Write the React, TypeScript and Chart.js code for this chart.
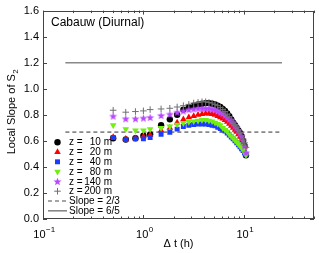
import React, { useEffect, useRef } from 'react';
import { Chart, registerables } from 'chart.js';
import { drawPoint } from 'chart.js/helpers';

Chart.register(...registerables);

// ---------------- data ----------------
const dtHours = [0.5, 0.667, 0.833, 1.0, 1.167, 1.5, 1.833, 2.167, 2.5, 2.833, 3.167, 3.5, 3.833, 4.167, 4.5, 4.833, 5.167, 5.5, 5.833, 6.167, 6.5, 6.833, 7.167, 7.5, 7.833, 8.167, 8.5, 8.833, 9.167, 9.5, 9.833, 10.167, 10.5];

const slopeZ10 = [0.62, 0.61, 0.62, 0.64, 0.65, 0.72, 0.765, 0.80, 0.84, 0.86, 0.87, 0.88, 0.885, 0.89, 0.89, 0.885, 0.88, 0.87, 0.86, 0.845, 0.83, 0.81, 0.79, 0.765, 0.74, 0.72, 0.70, 0.68, 0.66, 0.635, 0.60, 0.56, 0.49];
const slopeZ20 = [0.63, 0.615, 0.62, 0.635, 0.645, 0.68, 0.70, 0.74, 0.765, 0.78, 0.79, 0.80, 0.805, 0.81, 0.81, 0.805, 0.80, 0.79, 0.78, 0.77, 0.76, 0.745, 0.73, 0.715, 0.70, 0.685, 0.67, 0.65, 0.63, 0.61, 0.58, 0.55, 0.50];
const slopeZ40 = [0.625, 0.61, 0.615, 0.615, 0.625, 0.65, 0.665, 0.69, 0.71, 0.72, 0.725, 0.73, 0.73, 0.73, 0.725, 0.72, 0.715, 0.705, 0.695, 0.685, 0.675, 0.66, 0.645, 0.63, 0.615, 0.60, 0.585, 0.57, 0.555, 0.54, 0.525, 0.51, 0.495];
const slopeZ80 = [0.72, 0.69, 0.68, 0.68, 0.69, 0.70, 0.71, 0.725, 0.735, 0.745, 0.75, 0.755, 0.76, 0.76, 0.755, 0.75, 0.74, 0.73, 0.72, 0.70, 0.685, 0.67, 0.65, 0.635, 0.62, 0.605, 0.59, 0.575, 0.56, 0.545, 0.53, 0.51, 0.49];
const slopeZ140 = [0.79, 0.77, 0.77, 0.775, 0.78, 0.795, 0.805, 0.82, 0.83, 0.84, 0.845, 0.85, 0.85, 0.85, 0.85, 0.845, 0.84, 0.83, 0.82, 0.81, 0.795, 0.78, 0.765, 0.75, 0.735, 0.715, 0.70, 0.68, 0.66, 0.635, 0.60, 0.56, 0.51];
const slopeZ200 = [0.835, 0.82, 0.825, 0.83, 0.84, 0.845, 0.85, 0.86, 0.87, 0.88, 0.89, 0.895, 0.90, 0.90, 0.895, 0.89, 0.88, 0.87, 0.855, 0.84, 0.825, 0.805, 0.785, 0.765, 0.745, 0.725, 0.705, 0.685, 0.665, 0.64, 0.615, 0.585, 0.55];

const heightLabels = ['10', '20', '40', '80', '140', '200'];
const seriesValues = [slopeZ10, slopeZ20, slopeZ40, slopeZ80, slopeZ140, slopeZ200];

const refSlopes = [2 / 3, 6 / 5];
const refSlopeLabels = ['Slope = 2/3', 'Slope = 6/5'];
const refLineX = [0.167, 24];

const yTickValues = [0, 0.2, 0.4, 0.6, 0.8, 1.0, 1.2, 1.4, 1.6];
const xDecadeExponents = [-1, 0, 1];
const titleText = 'Cabauw (Diurnal)';
const xTitle = 'Δ t (h)';
const yTitleMain = 'Local Slope of S';
const yTitleSub = '2';

// ---------------- styles ----------------
const FONT = '"Liberation Sans", Arial, Helvetica, sans-serif';
const AXIS_COLOR = '#444444';

function makeStar(color: string, outer: number, inner: number) {
  const size = Math.ceil(outer * 2 + 2);
  const c = document.createElement('canvas');
  c.width = size;
  c.height = size;
  const ctx = c.getContext('2d')!;
  ctx.fillStyle = color;
  ctx.beginPath();
  for (let i = 0; i < 10; i++) {
    const r = i % 2 === 0 ? outer : inner;
    const a = -Math.PI / 2 + (i * Math.PI) / 5;
    const px = size / 2 + r * Math.cos(a);
    const py = size / 2 + r * Math.sin(a) + 0.4;
    if (i === 0) ctx.moveTo(px, py);
    else ctx.lineTo(px, py);
  }
  ctx.closePath();
  ctx.fill();
  return c;
}

export default function App() {
  const ref = useRef<HTMLCanvasElement>(null);

  useEffect(() => {
    const starImg = makeStar('#b847ff', 4.2, 1.8);
    const markerStyles: any[] = [
      { pointStyle: 'circle', radius: 3.2, color: '#000000', rotation: 0, borderWidth: 0 },
      { pointStyle: 'triangle', radius: 3.8, color: '#ff0000', rotation: 0, borderWidth: 0 },
      { pointStyle: 'rect', radius: 3.5, color: '#1a3cff', rotation: 0, borderWidth: 0 },
      { pointStyle: 'triangle', radius: 3.8, color: '#72ee10', rotation: 180, borderWidth: 0 },
      { pointStyle: starImg, radius: 4, color: '#b847ff', rotation: 0, borderWidth: 0 },
      { pointStyle: 'cross', radius: 3.3, color: '#707070', rotation: 0, borderWidth: 1 },
    ];

    const datasets: any[] = seriesValues.map((vals, i) => {
      const s = markerStyles[i];
      return {
        label: `z = ${heightLabels[i]} m`,
        data: dtHours.map((t, j) => ({ x: t, y: vals[j] })),
        showLine: false,
        pointStyle: s.pointStyle,
        pointRadius: s.radius,
        pointRotation: s.rotation,
        pointBackgroundColor: s.color,
        pointBorderColor: s.color,
        pointBorderWidth: s.borderWidth,
        order: 20 - i,
      };
    });
    refSlopes.forEach((v, i) => {
      datasets.push({
        label: refSlopeLabels[i],
        data: refLineX.map((x) => ({ x, y: v })),
        showLine: true,
        pointRadius: 0,
        borderColor: '#888888',
        borderWidth: 1.6,
        borderDash: i === 0 ? [4, 3] : [],
        order: 40 + i,
      });
    });

    const decor = {
      id: 'decor',
      afterDraw(chart: any) {
        const ctx = chart.ctx as CanvasRenderingContext2D;
        const { left, right, top, bottom } = chart.chartArea;
        const xs = chart.scales.x;
        const ys = chart.scales.y;
        ctx.save();
        // box
        ctx.strokeStyle = AXIS_COLOR;
        ctx.lineWidth = 1;
        ctx.strokeRect(Math.round(left) + 0.5, Math.round(top) + 0.5, Math.round(right - left) - 1, Math.round(bottom - top) - 1);
        // y ticks
        ctx.beginPath();
        yTickValues.forEach((v) => {
          const py = Math.round(ys.getPixelForValue(v)) + 0.5;
          ctx.moveTo(left, py);
          ctx.lineTo(left + 4, py);
          ctx.moveTo(right, py);
          ctx.lineTo(right - 4, py);
        });
        // x ticks
        xDecadeExponents.forEach((e) => {
          for (let m = 1; m <= 9; m++) {
            const v = m * Math.pow(10, e);
            if (v < xs.min - 1e-9 || v > xs.max + 1e-9) continue;
            const px = Math.round(xs.getPixelForValue(v)) + 0.5;
            const len = m === 1 ? 4 : 2.5;
            ctx.moveTo(px, bottom);
            ctx.lineTo(px, bottom - len);
            ctx.moveTo(px, top);
            ctx.lineTo(px, top + len);
          }
        });
        ctx.stroke();

        // x tick labels with superscripts
        ctx.fillStyle = '#000';
        ctx.textBaseline = 'alphabetic';
        ctx.textAlign = 'left';
        xDecadeExponents.forEach((e) => {
          const v = Math.pow(10, e);
          const px = xs.getPixelForValue(v);
          ctx.font = `11px ${FONT}`;
          const wBase = ctx.measureText('10').width;
          ctx.font = `8px ${FONT}`;
          const supTxt = e < 0 ? '\u2212' + Math.abs(e) : String(e);
          const wSup = ctx.measureText(supTxt).width;
          const x0 = px - (wBase + wSup) / 2 + 1;
          ctx.font = `11px ${FONT}`;
          ctx.fillText('10', x0, 238);
          ctx.font = `8px ${FONT}`;
          ctx.fillText(supTxt, x0 + wBase + 0.5, 232);
        });

        // x title
        ctx.font = `11px ${FONT}`;
        ctx.textAlign = 'center';
        ctx.fillText(xTitle, (left + right) / 2, 247);

        // y title (rotated) with subscript
        ctx.save();
        ctx.translate(15, 112);
        ctx.rotate(-Math.PI / 2);
        ctx.font = `11px ${FONT}`;
        const wMain = ctx.measureText(yTitleMain).width;
        ctx.font = `8px ${FONT}`;
        const wSub = ctx.measureText(yTitleSub).width;
        const sx = -(wMain + wSub) / 2;
        ctx.textAlign = 'left';
        ctx.font = `11px ${FONT}`;
        ctx.fillText(yTitleMain, sx, 0);
        ctx.font = `8px ${FONT}`;
        ctx.fillText(yTitleSub, sx + wMain + 0.3, 3);
        ctx.restore();

        // in-plot title
        ctx.font = `12px ${FONT}`;
        ctx.textAlign = 'left';
        ctx.textBaseline = 'middle';
        ctx.fillText(titleText, 51, 23);

        // legend
        const rowY0 = 142.2;
        const rowDy = 9.8;
        ctx.font = `10px ${FONT}`;
        heightLabels.forEach((h, i) => {
          const y = rowY0 + i * rowDy;
          const s = markerStyles[i];
          ctx.fillStyle = s.color;
          ctx.strokeStyle = s.color;
          ctx.lineWidth = 1;
          drawPoint(ctx, { pointStyle: s.pointStyle, radius: s.radius, rotation: s.rotation, borderWidth: s.borderWidth }, 57.5, y);
          ctx.fillStyle = '#000';
          ctx.textAlign = 'left';
          ctx.fillText('z =', 69, y + 0.5);
          ctx.textAlign = 'right';
          ctx.fillText(`${h} m`, 112, y + 0.5);
        });
        refSlopeLabels.forEach((lab, i) => {
          const y = rowY0 + (heightLabels.length + i) * rowDy;
          ctx.strokeStyle = '#888888';
          ctx.lineWidth = 1.6;
          ctx.setLineDash(i === 0 ? [4, 3] : []);
          ctx.beginPath();
          ctx.moveTo(48, y);
          ctx.lineTo(67, y);
          ctx.stroke();
          ctx.setLineDash([]);
          ctx.fillStyle = '#000';
          ctx.textAlign = 'left';
          ctx.fillText(lab, 69, y + 0.5);
        });
        ctx.restore();
      },
    };

    const chart = new Chart(ref.current!, {
      type: 'scatter',
      data: { datasets },
      options: {
        responsive: false,
        animation: false,
        devicePixelRatio: 1,
        layout: { padding: { left: 0, top: 10, right: 5, bottom: 0 } },
        plugins: { legend: { display: false }, tooltip: { enabled: false }, title: { display: false } },
        scales: {
          x: {
            type: 'logarithmic',
            min: 0.1,
            max: 50,
            grid: { display: false, drawTicks: false },
            border: { display: false },
            ticks: { display: false },
            afterFit: (s: any) => { s.height = 34; },
          },
          y: {
            type: 'linear',
            min: 0,
            max: 1.6,
            grid: { display: false, drawTicks: false },
            border: { display: false },
            ticks: {
              stepSize: 0.2,
              padding: 4,
              color: '#000',
              font: { family: FONT, size: 11 },
              callback: (v: any) => Number(v).toFixed(1),
            },
            afterFit: (s: any) => { s.width = 43; },
          },
        },
      } as any,
      plugins: [decor],
    });
    return () => chart.destroy();
  }, []);

  return (
    <div style={{ position: 'absolute', left: 0, top: 0, width: 319, height: 253, background: '#fff' }}>
      <canvas ref={ref} width={319} height={253} style={{ width: 319, height: 253, display: 'block' }} />
    </div>
  );
}
